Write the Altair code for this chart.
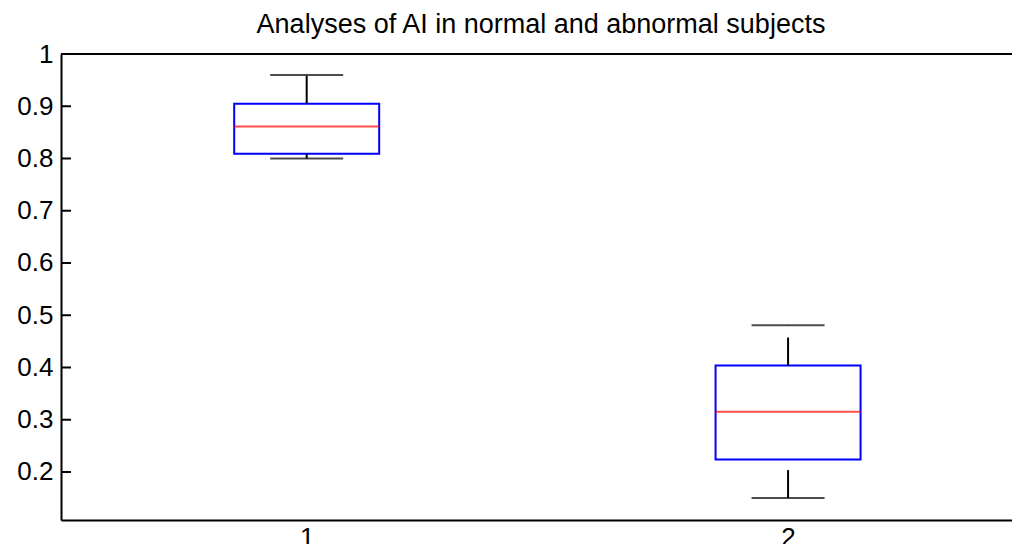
import altair as alt
import pandas as pd

# ---- data ----
groups = [1, 2]
lower_whisker = [0.80, 0.15]
q1 = [0.809, 0.224]
median = [0.861, 0.3155]
q3 = [0.905, 0.404]
upper_whisker = [0.96, 0.481]
y_tick_values = [0.2, 0.3, 0.4, 0.5, 0.6, 0.7, 0.8, 0.9, 1.0]
x_tick_values = [1, 2]
chart_title = ["Analyses of AI in normal and abnormal subjects"]

FONT = "Liberation Sans"

df = pd.DataFrame({
    "group": groups,
    "lower": lower_whisker,
    "q1": q1,
    "median": median,
    "q3": q3,
    "upper": upper_whisker,
})
ticks_df = pd.DataFrame({"v": y_tick_values})
title_df = pd.DataFrame({"t": chart_title})

W, H = 951, 466

x_scale = alt.Scale(domain=[0.5, 2.4548], nice=False, zero=False)
y_scale = alt.Scale(domain=[0.1081, 1.0], nice=False, zero=False)

x_axis = alt.Axis(values=x_tick_values, format="d", ticks=False, grid=False,
                  domainColor="black", domainWidth=2, labelFont=FONT,
                  labelFontSize=26, labelColor="black", labelPadding=4,
                  labelFlush=False, title=None)
y_axis = alt.Axis(values=y_tick_values, format=".1~f", ticks=False, grid=False,
                  domainColor="black", domainWidth=2, labelFont=FONT,
                  labelFontSize=26, labelColor="black", labelPadding=8,
                  labelFlush=False, labelOverlap=False, title=None)

base = alt.Chart(df)
X = alt.X("group:Q", scale=x_scale, axis=x_axis)

box = base.mark_bar(filled=False, color="#0000ff", strokeWidth=2, size=145).encode(
    x=X, y=alt.Y("q1:Q", scale=y_scale, axis=y_axis), y2="q3:Q")

med = base.mark_tick(orient="horizontal", size=145, thickness=2, color="#ff0000").encode(
    x=X, y=alt.Y("median:Q", scale=y_scale))

upper_cap = base.mark_tick(orient="horizontal", size=73, thickness=2, color="black").encode(
    x=X, y=alt.Y("upper:Q", scale=y_scale))
lower_cap = base.mark_tick(orient="horizontal", size=73, thickness=2, color="black").encode(
    x=X, y=alt.Y("lower:Q", scale=y_scale))

upper_wh = base.mark_rule(color="black", strokeWidth=2, strokeDash=[28, 12]).encode(
    x=X, y=alt.Y("q3:Q", scale=y_scale), y2="upper:Q")
lower_wh = base.mark_rule(color="black", strokeWidth=2, strokeDash=[28, 12]).encode(
    x=X, y=alt.Y("lower:Q", scale=y_scale), y2="q1:Q")

inner_ticks = alt.Chart(ticks_df).mark_rule(color="black", strokeWidth=2).encode(
    y=alt.Y("v:Q", scale=y_scale), x=alt.value(0), x2=alt.value(10))

top_border = alt.Chart(title_df).mark_rule(color="black", strokeWidth=2).encode(
    x=alt.value(0), x2=alt.value(W), y=alt.value(0))

title_mark = alt.Chart(title_df).mark_text(
    font=FONT, fontSize=27, color="black", align="center", baseline="alphabetic"
).encode(text="t:N", x=alt.value(480), y=alt.value(-21))

chart = alt.layer(
    box, upper_wh, lower_wh, upper_cap, lower_cap, med, inner_ticks, top_border, title_mark
).properties(
    width=W, height=H,
    padding={"left": 53, "top": 46, "right": 0, "bottom": 30},
    autosize=alt.AutoSizeParams(type="none"),
).configure_view(stroke=None)

chart.save("out.html", embed_options={"renderer": "svg", "actions": False})
